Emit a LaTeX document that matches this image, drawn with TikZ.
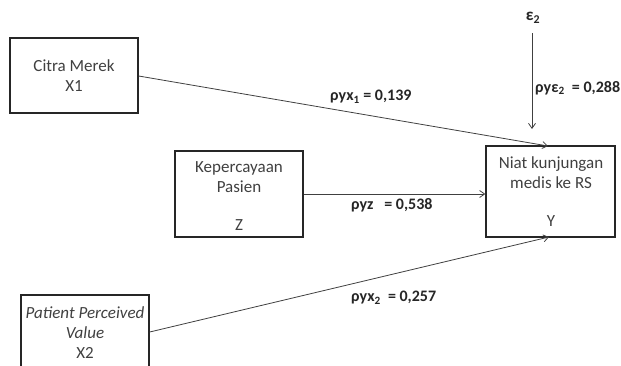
\documentclass[tikz,border=0pt]{standalone}
\usepackage{fontspec}
\setmainfont{Carlito}
\usetikzlibrary{arrows.meta}
\definecolor{txt}{HTML}{404040}
\begin{document}
\begin{tikzpicture}[x=1pt,y=-1pt,
  box/.style={draw=black!85,line width=1.4pt,inner sep=0pt},
  lbl/.style={text=txt,font=\fontsize{17}{20}\selectfont,inner sep=0pt,align=center},
  coef/.style={text=black!85,font=\fontsize{16}{18}\bfseries\selectfont,inner sep=0pt,anchor=west},
  conn/.style={draw=black!75,line width=0.8pt,-{Straight Barb[length=5pt,width=7pt]}}]
\useasboundingbox (0,0) rectangle (621,365);
\clip (0,0) rectangle (621,365);
% boxes
\node[box,minimum width=128pt,minimum height=75pt] (x1) at (74,75.5) {};
\node[box,minimum width=128pt,minimum height=86pt] (z) at (239,194) {};
\node[box,minimum width=129pt,minimum height=91pt] (y) at (550.5,191.5) {};
\node[box,minimum width=128pt,minimum height=90pt] (x2) at (85,340) {};
% texts
\node[lbl] (t1) at (74,76) {Citra Merek\\X1};
\node[lbl] (tz1) at (239,177.5) {Kepercayaan\\Pasien};
\node[lbl] (tz2) at (239,225) {Z};
\node[lbl] (ty1) at (551,173) {Niat kunjungan\\medis ke RS};
\node[lbl] (ty2) at (551,221) {Y};
\node[lbl] (tx2) at (85,333) {\itshape Patient Perceived\\\itshape Value\\X2};
\node[text=black!85,font=\fontsize{17}{18}\bfseries\selectfont,inner sep=0pt] (e2) at (533,18) {ε\textsubscript{2}};
% connectors
\coordinate (y1) at (548,146);
\coordinate (y3) at (549,237);
\coordinate (etop) at (532,33);
\coordinate (ebot) at (532,129);
\draw[conn] (x1.east |- 0,76) -- (y1);
\draw[conn] (z.east) -- (y.west |- z.east);
\draw[conn] (x2.east |- 0,332) -- (y3);
\draw[conn] (etop) -- (ebot);
% coefficients
\node[coef] (c1) at (330,97) {ρyx\textsubscript{1} = 0,139};
\node[coef] (c2) at (535,88) {ρyε\textsubscript{2}\ \ = 0,288};
\node[coef] (c3) at (351,205) {ρyz\ \ \ = 0,538};
\node[coef] (c4) at (351,298) {ρyx\textsubscript{2}\ \ = 0,257};
\end{tikzpicture}
\end{document}
